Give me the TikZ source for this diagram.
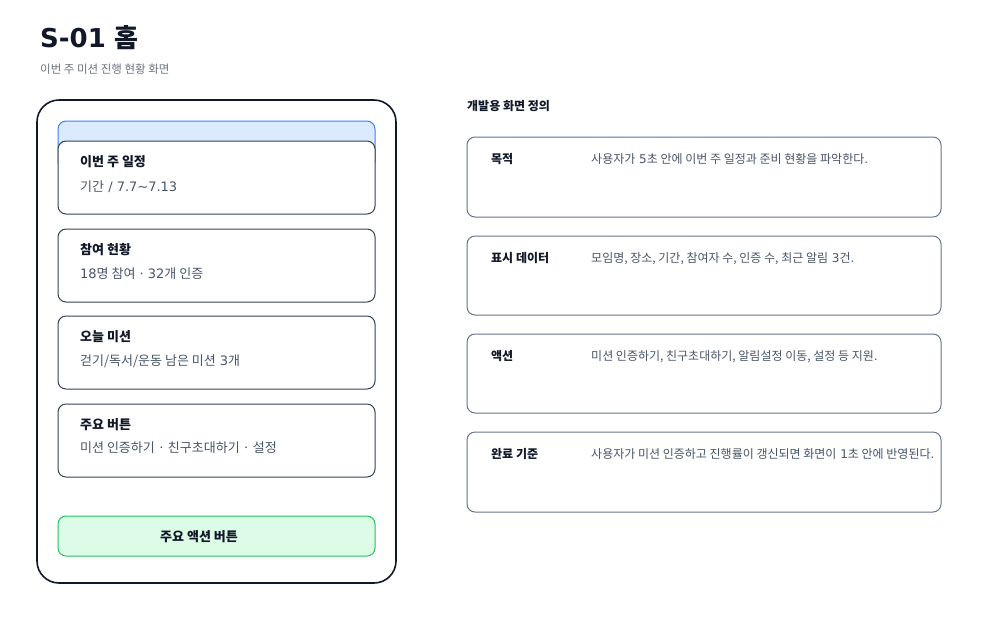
\documentclass[tikz,border=0pt]{standalone}
\usepackage{fontspec}
\setmainfont{DejaVu Sans}
\newfontfamily\krfont{Noto Sans CJK KR}
\newcommand\kr[1]{{\krfont #1}}
\definecolor{ink}{HTML}{111827}
\definecolor{slate}{HTML}{334155}
\definecolor{body}{HTML}{475569}
\definecolor{muted}{HTML}{6B7280}
\definecolor{cardline}{HTML}{64748B}
\definecolor{hdrfill}{HTML}{DBEAFE}
\definecolor{hdrline}{HTML}{3B82F6}
\definecolor{btnfill}{HTML}{DCFCE7}
\definecolor{btnline}{HTML}{22C55E}
\tikzset{
  phone/.style={draw=ink, line width=1.6pt, rounded corners=22pt, fill=white},
  card/.style={draw=slate, line width=1pt, rounded corners=8pt, fill=white},
  hdr/.style={draw=hdrline, line width=1pt, rounded corners=8pt, fill=hdrfill},
  btn/.style={draw=btnline, line width=1pt, rounded corners=8pt, fill=btnfill},
  spec/.style={draw=cardline, line width=1pt, rounded corners=8pt, fill=white},
  ctitle/.style={anchor=base west, inner sep=0pt, text=ink, font=\fontsize{13}{15}\selectfont\bfseries},
  cbody/.style={anchor=base west, inner sep=0pt, text=body, font=\fontsize{13}{15}\selectfont},
  slabel/.style={anchor=base west, inner sep=0pt, text=ink, font=\fontsize{12}{15}\selectfont\bfseries},
  stext/.style={anchor=base west, inner sep=0pt, text=body, font=\fontsize{12}{15}\selectfont},
}
\begin{document}
\begin{tikzpicture}[x=1pt,y=-1pt]
\useasboundingbox (0,0) rectangle (1000,633);
% title
\node[anchor=base west, inner sep=0pt, text=ink, font=\fontsize{26}{30}\selectfont\bfseries] (title) at (40,47) {S-01 \kr{홈}};
\node[anchor=base west, inner sep=0pt, text=muted, font=\fontsize{11.5}{14}\selectfont] (subtitle) at (40,73) {\kr{이번 주 미션 진행 현황 화면}};
% phone
\draw[phone] (37,100) rectangle (396,583);
\draw[hdr] (58,121) rectangle (375,170);
\draw[card] (58,141) rectangle (375,214);
\draw[card] (58,229) rectangle (375,302);
\draw[card] (58,316) rectangle (375,389);
\draw[card] (58,404) rectangle (375,477);
\draw[btn] (58,516) rectangle (375,556);
\node[ctitle] (c1t) at (80,166) {\kr{이번 주 일정}};
\node[cbody]  (c1b) at (80,191) {\kr{기간} / 7.7\char`~7.13};
\node[ctitle] (c2t) at (80,254) {\kr{참여 현황}};
\node[cbody]  (c2b) at (80,278) {18\kr{명 참여} · 32\kr{개 인증}};
\node[ctitle] (c3t) at (80,341) {\kr{오늘 미션}};
\node[cbody]  (c3b) at (80,365) {\kr{걷기/독서/운동 남은 미션} 3\kr{개}};
\node[ctitle] (c4t) at (80,429) {\kr{주요 버튼}};
\node[cbody]  (c4b) at (80,452) {\kr{미션 인증하기 · 친구초대하기 · 설정}};
\node[anchor=base west, inner sep=0pt, text=ink, font=\fontsize{13}{15}\selectfont\bfseries] (btnt) at (160,541) {\kr{주요 액션 버튼}};
% right side
\node[anchor=base west, inner sep=0pt, text=ink, font=\fontsize{12}{14}\selectfont\bfseries] (rtitle) at (467,110) {\kr{개발용 화면 정의}};
\draw[spec] (467,137) rectangle (941,217);
\draw[spec] (467,236) rectangle (941,315);
\draw[spec] (467,334) rectangle (941,413);
\draw[spec] (467,432) rectangle (941,512);
\node[slabel] (l1) at (491,163) {\kr{목적}};
\node[stext]  (t1) at (591,163) {\kr{사용자가} 5\kr{초 안에 이번 주 일정과 준비 현황을 파악한다}.};
\node[slabel] (l2) at (491,262) {\kr{표시 데이터}};
\node[stext]  (t2) at (591,262) {\kr{모임명, 장소, 기간, 참여자 수, 인증 수, 최근 알림} 3\kr{건}.};
\node[slabel] (l3) at (491,360) {\kr{액션}};
\node[stext]  (t3) at (591,360) {\kr{미션 인증하기, 친구초대하기, 알림설정 이동, 설정 등 지원}.};
\node[slabel] (l4) at (491,458) {\kr{완료 기준}};
\node[stext]  (t4) at (591,458) {\kr{사용자가 미션 인증하고 진행률이 갱신되면 화면이} 1\kr{초 안에 반영된다}.};
\end{tikzpicture}
\end{document}
